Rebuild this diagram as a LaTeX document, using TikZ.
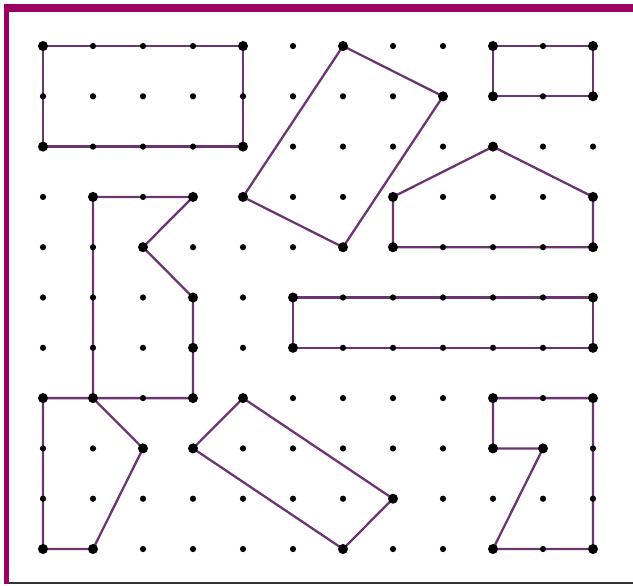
\documentclass[tikz,border=0pt]{standalone}
\definecolor{geoline}{RGB}{108,52,114}
\definecolor{geoframe}{RGB}{153,0,96}
\tikzset{
  shapeline/.style={geoline, line width=1.3pt, line join=round},
  smalldot/.style={fill=black},
  bigdot/.style={fill=black},
}
\begin{document}
\begin{tikzpicture}[x=1cm, y=1.006cm]
  \useasboundingbox (-0.86,-0.716) rectangle (11.8,10.915);

  % Frame
  \draw[geoframe, line width=0.16cm] (-0.78,10.755) -- (11.8,10.755);
  \draw[geoframe, line width=0.1cm] (-0.73,10.835) -- (-0.73,-0.696);
  \draw[black!80, line width=0.04cm] (-0.68,-0.676) -- (11.8,-0.676);

  % Geoboard points (column i, row j counted from the top)
  \foreach \i in {0,...,11}
    \foreach \j in {0,...,10}
      \coordinate (p-\i-\j) at (\i, 10-\j);

  % Polygons
  \draw[shapeline] (p-0-0) -- (p-4-0) -- (p-4-2) -- (p-0-2) -- cycle;
  \draw[shapeline] (p-6-0) -- (p-8-1) -- (p-6-4) -- (p-4-3) -- cycle;
  \draw[shapeline] (p-9-0) -- (p-11-0) -- (p-11-1) -- (p-9-1) -- cycle;
  \draw[shapeline] (p-7-3) -- (p-9-2) -- (p-11-3) -- (p-11-4) -- (p-7-4) -- cycle;
  \draw[shapeline] (p-1-3) -- (p-3-3) -- (p-2-4) -- (p-3-5) -- (p-3-7) -- (p-1-7) -- cycle;
  \draw[shapeline] (p-5-5) -- (p-11-5) -- (p-11-6) -- (p-5-6) -- cycle;
  \draw[shapeline] (p-0-7) -- (p-1-7) -- (p-2-8) -- (p-1-10) -- (p-0-10) -- cycle;
  \draw[shapeline] (p-4-7) -- (p-7-9) -- (p-6-10) -- (p-3-8) -- cycle;
  \draw[shapeline] (p-9-7) -- (p-11-7) -- (p-11-10) -- (p-9-10) -- (p-10-8) -- (p-9-8) -- cycle;

  % Small dots on every point
  \foreach \i in {0,...,11}
    \foreach \j in {0,...,10}
      \fill[smalldot] (p-\i-\j) circle (0.062);

  % Big dots on the corners
  \foreach \v in {0-0, 4-0, 4-2, 0-2,
                  6-0, 8-1, 6-4, 4-3,
                  9-0, 11-0, 11-1, 9-1,
                  7-3, 9-2, 11-3, 11-4, 7-4,
                  1-3, 3-3, 2-4, 3-5, 3-6, 3-7, 1-7,
                  5-5, 11-5, 11-6, 5-6,
                  0-7, 2-8, 1-10, 0-10,
                  4-7, 7-9, 6-10, 3-8,
                  9-7, 11-7, 11-10, 9-10, 10-8, 9-8}
    \fill[bigdot] (p-\v) circle (0.1);
\end{tikzpicture}
\end{document}
